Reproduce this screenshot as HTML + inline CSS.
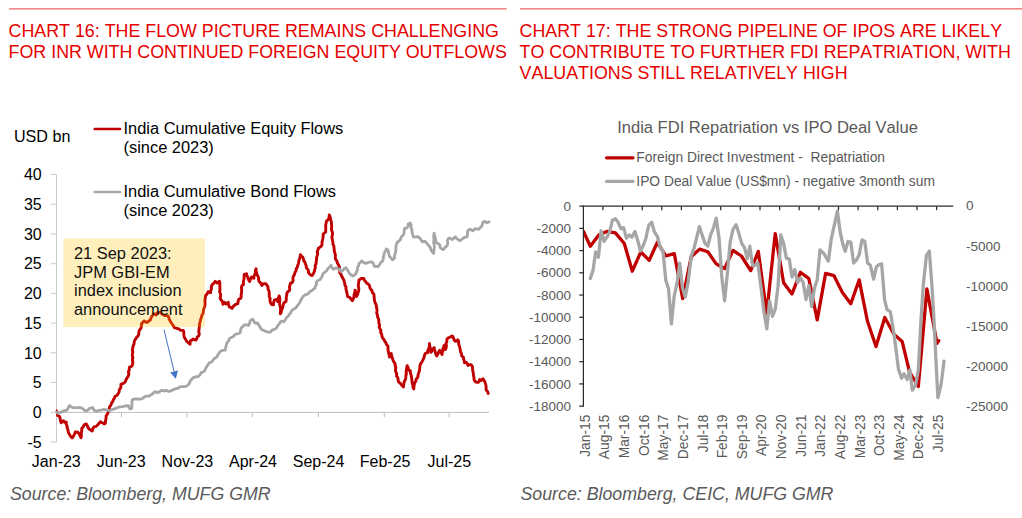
<!DOCTYPE html>
<html><head><meta charset="utf-8"><title>Charts</title>
<style>html,body{margin:0;padding:0;background:#fff}svg{display:block}text{font-family:"Liberation Sans",sans-serif;font-kerning:none}</style></head><body>
<svg width="1022" height="518" viewBox="0 0 1022 518">
<rect width="1022" height="518" fill="#fff"/>
<rect x="9" y="8.4" width="497.7" height="1" fill="#e84040"/>
<rect x="520" y="8.4" width="502" height="1" fill="#e84040"/>
<text x="8.6" y="37.3" font-size="17.83" fill="#e60000">CHART 16: THE FLOW PICTURE REMAINS CHALLENGING</text>
<text x="8.6" y="57.9" font-size="17.83" fill="#e60000">FOR INR WITH CONTINUED FOREIGN EQUITY OUTFLOWS</text>
<text x="519.6" y="37.3" font-size="17.83" fill="#e60000">CHART 17: THE STRONG PIPELINE OF IPOS ARE LIKELY</text>
<text x="519.6" y="57.9" font-size="17.83" fill="#e60000">TO CONTRIBUTE TO FURTHER FDI REPATRIATION, WITH</text>
<text x="519.6" y="78.5" font-size="17.83" fill="#e60000">VALUATIONS STILL RELATIVELY HIGH</text>
<g id="left">
<g stroke="#cbcbcb" stroke-width="1" fill="none">
<line x1="56.5" y1="174.5" x2="56.5" y2="442"/>
<line x1="51" y1="174.5" x2="56.5" y2="174.5"/>
<line x1="51" y1="204.2" x2="56.5" y2="204.2"/>
<line x1="51" y1="233.9" x2="56.5" y2="233.9"/>
<line x1="51" y1="263.7" x2="56.5" y2="263.7"/>
<line x1="51" y1="293.4" x2="56.5" y2="293.4"/>
<line x1="51" y1="323.1" x2="56.5" y2="323.1"/>
<line x1="51" y1="352.8" x2="56.5" y2="352.8"/>
<line x1="51" y1="382.5" x2="56.5" y2="382.5"/>
<line x1="51" y1="412.3" x2="56.5" y2="412.3"/>
<line x1="51" y1="442.0" x2="56.5" y2="442.0"/>
</g>
<g stroke="#bfbfbf" stroke-width="1" fill="none">
<line x1="56" y1="412.4" x2="489" y2="412.4"/>
<line x1="121.5" y1="412.4" x2="121.5" y2="417.4"/>
<line x1="187.0" y1="412.4" x2="187.0" y2="417.4"/>
<line x1="252.3" y1="412.4" x2="252.3" y2="417.4"/>
<line x1="318.4" y1="412.4" x2="318.4" y2="417.4"/>
<line x1="384.3" y1="412.4" x2="384.3" y2="417.4"/>
<line x1="449.2" y1="412.4" x2="449.2" y2="417.4"/>
</g>
<text x="41.7" y="180.2" font-size="16.0" text-anchor="end" fill="#000">40</text>
<text x="41.7" y="209.9" font-size="16.0" text-anchor="end" fill="#000">35</text>
<text x="41.7" y="239.6" font-size="16.0" text-anchor="end" fill="#000">30</text>
<text x="41.7" y="269.4" font-size="16.0" text-anchor="end" fill="#000">25</text>
<text x="41.7" y="299.1" font-size="16.0" text-anchor="end" fill="#000">20</text>
<text x="41.7" y="328.8" font-size="16.0" text-anchor="end" fill="#000">15</text>
<text x="41.7" y="358.5" font-size="16.0" text-anchor="end" fill="#000">10</text>
<text x="41.7" y="388.2" font-size="16.0" text-anchor="end" fill="#000">5</text>
<text x="41.7" y="418.0" font-size="16.0" text-anchor="end" fill="#000">0</text>
<text x="41.7" y="447.7" font-size="16.0" text-anchor="end" fill="#000">-5</text>
<text x="56.3" y="466.8" font-size="16.0" text-anchor="middle" fill="#000">Jan-23</text>
<text x="121.2" y="466.8" font-size="16.0" text-anchor="middle" fill="#000">Jun-23</text>
<text x="187.4" y="466.8" font-size="16.0" text-anchor="middle" fill="#000">Nov-23</text>
<text x="253.0" y="466.8" font-size="16.0" text-anchor="middle" fill="#000">Apr-24</text>
<text x="318.5" y="466.8" font-size="16.0" text-anchor="middle" fill="#000">Sep-24</text>
<text x="385.1" y="466.8" font-size="16.0" text-anchor="middle" fill="#000">Feb-25</text>
<text x="449.3" y="466.8" font-size="16.0" text-anchor="middle" fill="#000">Jul-25</text>
<text x="14" y="141.5" font-size="16.1" fill="#000">USD bn</text>
<clipPath id="lc"><rect x="55.8" y="170" width="440" height="275"/></clipPath><g clip-path="url(#lc)">
<polyline points="56.3,410.8 57.2,413.1 57.6,415.5 59.7,416.5 60.1,418.6 60.5,420.7 61.2,422.8 61.9,421.4 63.5,420.8 64.5,422.2 66.3,422.1 66.2,424.1 67.1,425.9 67.1,427.8 67.9,429.5 68.1,431.4 68.7,433.2 69.7,434.8 70.7,436.6 72.2,437.9 73.5,436.1 74.5,434.1 75.3,432.0 78.0,432.2 79.0,433.7 80.1,435.7 81.0,437.8 81.4,436.0 81.2,434.1 81.5,432.3 81.8,430.4 81.7,428.5 83.2,426.9 84.2,424.8 86.3,423.9 87.4,425.9 88.3,428.1 90.0,429.8 92.2,431.0 92.8,428.8 94.0,426.9 96.2,426.3 97.8,424.8 99.2,423.3 100.3,421.7 102.2,422.8 104.1,423.8 105.3,423.3 105.5,421.5 105.7,419.7 106.2,417.9 106.0,416.0 107.1,414.6 107.8,413.0 108.4,411.4 109.2,409.3 109.5,407.0 110.9,405.1 111.6,403.0 112.6,401.6 113.3,399.8 114.3,398.4 114.9,396.6 117.2,395.2 118.2,393.6 119.1,392.0 119.2,390.0 120.4,388.3 121.0,386.4 120.9,384.4 123.3,383.4 125.3,381.9 126.0,379.8 127.0,377.9 128.3,376.1 128.9,374.0 128.4,371.7 129.3,369.6 129.3,367.4 131.0,366.6 132.3,365.4 132.7,363.5 132.8,361.6 132.4,359.7 132.9,357.8 132.3,355.9 132.4,354.0 132.8,352.0 132.4,349.9 132.7,347.9 133.2,345.9 134.0,344.1 134.2,342.1 134.7,340.3 135.9,338.6 136.7,337.2 138.0,336.1 138.8,334.2 138.8,332.1 139.5,330.2 141.0,328.2 141.4,325.9 141.6,323.5 142.9,322.2 144.2,320.9 145.6,322.0 147.3,322.4 148.8,321.0 150.4,319.9 151.2,317.6 152.4,315.6 154.7,313.7 156.2,315.1 157.0,313.8 157.6,312.4 160.3,312.3 161.3,313.5 162.5,314.5 165.0,315.6 167.6,315.6 168.8,317.3 169.2,319.3 170.5,321.4 171.7,323.5 173.2,325.5 174.3,327.6 177.0,328.3 178.8,328.8 180.2,330.1 181.7,330.4 183.3,330.4 183.8,332.0 183.8,333.8 184.0,335.7 184.4,337.5 185.7,339.5 187.0,341.7 188.5,342.9 190.0,344.3 190.1,342.5 190.6,340.7 192.0,340.1 193.1,339.0 195.8,340.1 196.8,338.7 197.2,337.0 198.8,335.9 199.3,334.0 198.8,332.0 198.9,330.0 199.2,328.1 199.5,326.1 199.5,323.9 200.1,321.8 200.6,319.6 201.3,317.5 201.9,315.3 203.1,313.3 203.4,311.0 203.7,309.0 204.4,307.0 205.0,305.1 205.0,303.0 204.9,301.2 204.9,299.4 205.4,297.7 205.4,295.9 207.0,294.0 208.1,291.8 210.6,292.7 210.6,290.9 211.4,289.2 211.4,287.3 211.6,285.5 212.5,284.3 213.7,283.3 215.2,281.3 217.3,283.0 219.5,281.2 219.8,283.4 219.8,285.5 219.9,287.6 220.0,289.6 219.6,291.8 220.4,293.8 220.7,295.9 220.1,298.0 221.0,299.8 222.2,301.2 222.8,302.6 223.0,304.2 224.5,302.2 225.9,304.1 227.2,303.3 228.3,302.2 228.5,304.5 229.2,306.8 230.7,307.4 232.0,308.4 233.3,306.4 235.0,304.7 237.8,303.7 238.1,301.3 238.9,299.0 240.7,298.3 241.2,296.7 241.1,294.8 241.5,293.0 241.6,291.2 241.7,289.4 241.4,287.5 242.0,285.7 243.6,284.4 243.3,282.4 243.6,280.4 244.1,278.5 244.1,276.5 244.2,274.5 246.6,273.8 247.0,275.6 247.8,277.3 248.3,279.2 249.6,281.4 250.5,279.2 251.4,277.1 253.9,278.2 254.0,276.3 254.8,274.4 255.5,272.6 255.3,270.6 256.1,268.8 256.1,271.2 256.8,273.4 257.5,275.6 258.6,277.4 258.5,279.4 259.0,281.3 260.8,283.2 261.8,285.5 263.2,283.8 265.9,283.7 267.0,285.3 268.0,287.0 268.0,289.0 269.0,290.9 269.2,292.9 269.3,294.9 269.3,296.9 270.2,298.7 269.9,300.8 270.6,302.7 271.6,304.5 273.5,304.8 273.7,302.5 274.2,300.2 276.9,299.3 277.7,301.6 278.3,299.7 278.6,297.7 279.2,295.8 279.6,297.8 279.9,299.8 279.6,301.8 279.6,303.9 280.0,305.8 280.5,307.8 280.5,309.9 280.4,311.9 280.4,313.9 281.3,312.0 281.6,309.8 282.5,307.8 283.0,306.1 283.3,304.4 283.9,302.7 285.8,301.8 286.3,299.7 286.2,297.5 286.7,295.4 286.8,293.3 287.9,291.7 289.4,290.5 289.8,288.7 289.4,286.9 290.0,285.2 290.3,283.4 292.4,282.4 293.1,280.3 292.9,278.1 293.5,276.1 294.5,274.5 294.9,272.5 296.0,270.9 296.2,268.9 297.3,267.2 297.7,265.3 298.5,263.5 298.7,261.5 299.2,259.8 299.8,258.2 300.1,256.4 300.4,254.7 301.4,256.1 302.8,257.2 303.4,258.8 303.7,260.8 305.0,262.3 305.5,264.0 306.2,265.8 306.3,267.7 307.5,269.1 308.4,270.6 308.4,272.6 309.6,273.9 310.7,275.1 312.2,275.6 313.3,273.7 314.2,271.8 314.6,269.7 315.4,267.7 315.1,265.6 316.1,263.7 316.1,261.6 316.6,259.6 316.5,257.5 317.2,255.7 317.7,253.9 317.2,251.9 317.9,250.1 318.4,248.3 320.5,246.9 322.0,245.0 322.0,242.9 322.3,240.7 322.8,238.6 323.2,236.4 323.1,234.2 324.3,233.0 325.7,232.1 325.7,229.9 325.8,227.7 325.6,225.5 326.1,223.4 326.4,221.2 328.3,219.6 329.1,217.3 329.3,214.9 330.3,217.5 330.7,219.7 331.3,221.7 331.5,223.8 331.7,225.9 331.6,228.0 331.5,230.1 332.4,232.1 332.5,234.2 332.0,236.3 332.0,238.4 332.5,240.5 332.9,242.3 332.9,244.1 333.8,245.8 334.0,247.7 334.2,249.5 334.4,251.5 335.0,253.3 335.4,255.3 335.3,257.3 335.6,259.2 336.9,261.1 337.5,263.3 338.7,265.2 339.5,267.3 339.5,269.1 339.9,271.0 339.8,272.9 340.9,273.9 341.4,275.5 342.4,277.5 343.6,279.4 344.2,281.5 344.8,283.3 344.9,285.2 346.0,286.9 345.9,288.8 346.5,290.7 346.8,292.7 347.3,294.6 347.5,296.5 349.7,297.4 351.0,299.0 352.3,300.7 353.3,298.8 354.0,296.7 354.1,294.5 354.8,292.4 355.1,290.2 355.5,292.3 356.2,294.3 356.6,296.5 357.5,294.6 358.2,292.5 358.7,290.5 358.8,288.4 358.3,286.2 358.5,284.1 358.7,282.1 359.0,280.0 361.3,278.5 363.8,278.4 364.2,280.1 365.5,281.5 366.5,283.1 368.3,284.1 369.5,285.6 369.8,287.5 370.7,289.3 372.0,290.6 372.4,292.6 373.8,294.0 374.1,296.1 374.2,298.2 374.4,300.2 375.0,302.3 375.7,303.8 376.3,305.5 376.5,307.4 377.0,309.3 376.9,311.2 376.7,313.2 377.5,315.0 377.6,316.9 378.6,319.1 378.9,321.5 378.9,323.3 379.7,325.0 379.2,326.9 379.8,328.6 380.8,330.3 380.6,332.4 381.7,334.1 381.9,336.1 382.6,337.9 383.8,339.2 384.5,340.8 385.6,342.1 386.5,344.4 388.1,346.4 388.0,348.6 388.1,350.7 388.7,352.8 389.1,355.0 389.5,357.1 390.3,355.3 391.3,353.6 391.6,355.6 392.2,357.5 392.8,359.5 393.5,361.4 395.1,363.6 395.2,365.7 395.9,367.8 395.4,370.0 395.9,372.1 396.8,373.9 396.5,375.9 397.8,377.6 398.1,379.5 398.3,381.4 399.4,382.6 400.6,383.6 401.9,385.3 403.4,386.9 403.7,385.1 404.0,383.2 404.3,381.4 405.4,379.8 405.7,377.9 405.9,375.9 406.3,373.9 406.2,371.8 406.4,369.7 406.7,367.7 407.2,365.7 408.2,367.7 408.4,370.0 410.3,370.6 410.4,372.9 411.1,375.0 411.5,377.1 411.8,379.2 412.0,381.4 412.2,383.3 413.0,385.1 412.9,387.1 413.8,388.9 413.9,386.9 414.2,385.0 414.7,383.0 415.8,381.3 416.1,379.3 417.9,377.0 418.0,375.1 418.6,373.3 419.2,371.4 419.6,369.6 419.8,367.6 419.9,365.7 420.5,363.9 421.7,362.3 422.6,360.6 423.4,358.9 424.2,357.1 424.5,355.1 425.4,353.4 427.8,352.7 427.7,350.7 428.7,349.0 429.1,347.2 429.5,345.4 429.4,343.5 429.8,345.7 430.2,347.9 430.5,350.1 430.9,352.3 432.0,351.0 432.4,349.5 434.1,347.6 434.6,349.6 435.2,351.7 435.7,353.9 436.7,355.9 437.8,354.2 438.7,352.2 439.6,350.3 440.8,352.4 442.1,354.5 442.2,352.6 442.9,350.9 442.8,348.9 443.7,347.2 444.1,345.4 444.9,347.5 445.5,349.6 446.2,347.6 446.4,345.5 446.0,343.3 446.9,341.3 446.9,339.2 448.1,337.9 449.7,337.4 451.0,336.5 452.4,335.9 453.4,337.8 454.0,339.7 455.4,341.3 456.8,340.8 457.8,339.7 458.7,341.7 458.6,344.0 459.4,346.1 460.0,348.2 460.3,350.2 460.7,352.1 461.5,353.9 461.7,355.9 463.5,357.4 463.6,359.2 464.3,361.0 464.5,362.8 466.4,362.4 467.5,363.8 467.9,365.5 469.4,364.8 471.2,364.8 472.2,366.1 472.6,367.7 472.6,369.7 473.0,371.6 473.4,373.6 473.4,375.6 474.0,377.5 474.0,379.5 474.8,381.1 476.1,382.3 478.4,382.2 479.4,381.1 479.7,379.5 481.2,380.4 483.0,378.8 483.9,380.2 484.8,381.6 485.4,383.6 486.0,385.7 486.1,387.8 486.1,389.9 487.5,391.5 488.2,393.4" fill="none" stroke="#c00000" stroke-width="2.9" stroke-linejoin="round" stroke-linecap="round"/>
<polyline points="56.3,412.3 58.2,413.4 60.0,412.6 61.9,411.7 63.7,410.9 65.7,410.3 67.6,409.7 68.3,407.5 69.6,405.6 72.2,407.4 74.3,407.9 76.4,407.6 78.3,407.7 80.3,407.6 82.2,408.3 83.9,409.8 85.9,410.9 88.0,410.0 89.6,408.3 92.6,407.5 94.1,410.2 96.8,411.2 98.7,410.3 100.9,410.3 103.0,409.5 105.2,409.7 107.2,410.2 109.3,410.6 111.0,410.1 112.7,409.3 114.5,408.8 116.2,408.1 118.0,407.6 119.7,406.8 122.3,406.6 124.9,406.1 126.7,405.6 128.6,405.8 128.9,407.4 130.0,408.8 131.9,408.3 131.8,406.1 131.9,404.1 132.0,402.0 132.2,400.0 132.9,399.5 134.5,399.0 136.3,398.9 139.4,399.2 141.7,398.8 143.7,397.5 145.4,396.4 147.3,396.1 149.3,396.1 150.8,394.8 152.5,394.0 153.6,392.7 154.9,391.6 157.6,392.8 159.4,392.0 160.8,390.6 162.7,390.5 164.4,391.1 166.1,390.2 167.7,391.1 169.7,391.4 171.6,390.4 173.7,389.7 175.4,388.7 177.4,388.7 179.1,387.3 181.1,386.7 182.9,386.6 184.7,386.6 186.7,386.0 188.3,384.8 189.6,382.9 190.4,380.7 191.7,379.3 193.0,377.9 195.6,376.9 198.4,376.5 200.1,374.6 201.3,372.4 203.2,372.0 204.6,370.8 205.5,368.7 206.7,366.8 207.9,364.7 209.3,362.8 211.7,362.0 213.0,359.9 214.7,358.3 216.7,357.2 217.8,355.1 219.1,353.1 220.5,351.2 222.8,350.3 225.3,350.2 225.4,348.2 226.1,346.4 226.4,344.4 227.3,342.4 228.8,340.8 229.3,338.6 231.1,337.6 233.0,336.7 234.4,335.2 236.3,333.9 238.6,333.6 240.4,332.3 240.6,329.8 241.4,327.6 243.1,326.3 244.5,324.8 246.4,324.7 248.4,325.5 249.7,323.1 250.2,320.6 252.5,319.1 253.7,320.7 254.4,322.5 255.9,323.3 257.7,322.9 258.7,325.1 260.1,327.0 260.9,328.7 262.3,329.9 264.1,330.5 265.9,331.5 268.1,332.1 270.4,332.0 271.4,330.8 272.8,329.9 275.8,328.8 276.9,327.2 277.8,325.5 279.2,324.2 280.0,322.4 281.4,321.1 283.8,321.7 285.3,319.8 286.5,317.6 288.3,315.9 289.4,314.3 290.8,312.8 291.5,311.0 293.0,309.6 295.1,308.3 296.6,307.1 297.5,305.5 298.7,304.0 299.9,302.2 300.8,300.1 302.0,298.2 303.2,296.3 305.0,294.9 306.8,294.3 308.6,293.5 309.7,291.6 311.7,290.8 313.2,289.4 314.9,288.2 315.3,286.2 316.6,284.6 316.3,282.5 317.4,280.8 320.0,279.8 321.4,277.8 322.3,275.7 323.2,273.5 324.9,272.2 326.6,270.7 327.8,268.8 329.6,267.1 331.2,265.2 331.9,267.4 333.5,269.3 336.2,267.8 337.6,268.6 339.3,268.8 340.2,270.4 341.4,271.9 342.8,270.4 344.0,268.8 345.9,267.6 347.2,269.6 348.5,271.5 349.3,273.2 350.6,274.5 352.8,276.1 354.6,275.0 356.0,273.5 356.6,271.5 357.6,269.7 357.4,267.4 358.7,265.7 358.9,263.5 360.5,262.3 361.7,260.9 364.1,262.9 365.8,263.4 367.9,262.6 370.0,262.0 372.5,262.2 373.6,264.2 374.3,266.4 376.1,266.3 378.2,266.6 379.9,263.9 381.0,262.2 382.7,261.0 383.2,258.7 383.5,256.4 384.1,254.1 384.6,252.3 385.7,250.7 386.2,248.9 388.1,249.9 388.4,252.3 388.9,254.5 389.8,256.7 391.3,258.2 392.5,259.8 394.6,258.2 394.4,256.2 395.0,254.1 395.6,252.1 395.8,250.0 395.9,247.9 396.1,245.8 396.6,243.8 397.6,242.0 399.0,241.0 400.2,239.9 401.3,236.9 403.5,234.8 404.0,232.8 404.2,230.7 404.4,228.6 407.2,227.6 408.2,225.9 408.2,223.9 410.1,222.9 411.2,225.1 410.9,227.5 412.0,229.6 412.0,232.1 412.7,234.5 413.3,236.9 415.4,237.1 417.5,236.5 420.2,238.4 421.2,240.2 422.4,241.8 424.8,241.2 426.6,243.0 428.1,245.1 430.2,247.2 430.7,249.2 431.6,251.0 433.7,253.4 433.9,251.2 434.1,248.9 434.4,246.7 434.1,244.4 433.6,242.2 434.0,239.9 433.7,237.7 433.6,235.4 434.2,233.2 434.4,235.3 435.3,237.3 435.6,239.5 435.9,241.6 437.3,243.3 439.4,244.2 439.8,246.0 440.4,247.8 443.1,249.6 444.4,248.4 445.3,246.9 446.7,246.2 447.5,244.6 447.7,242.6 447.4,240.6 448.2,238.8 449.6,238.0 452.4,239.6 453.9,238.1 455.4,236.8 456.3,238.3 457.7,239.3 460.2,240.8 461.7,239.5 463.1,238.3 464.9,237.2 467.0,236.9 467.5,234.9 467.5,232.9 467.6,231.0 468.8,229.9 470.5,229.4 472.7,230.8 475.3,228.7 476.9,229.0 478.6,229.4 479.7,228.0 481.1,227.1 482.3,224.8 482.8,222.4 484.3,221.3 486.8,222.8 489.0,221.9" fill="none" stroke="#a6a6a6" stroke-width="2.8" stroke-linejoin="round" stroke-linecap="round"/>
</g>
<line x1="94.8" y1="129" x2="120" y2="129" stroke="#c00000" stroke-width="2.7" stroke-linecap="round"/>
<text x="123.5" y="134.2" font-size="16.42" fill="#000">India Cumulative Equity Flows</text>
<text x="123.5" y="153.3" font-size="16.42" fill="#000">(since 2023)</text>
<line x1="94.8" y1="192" x2="120" y2="192" stroke="#a6a6a6" stroke-width="2.7" stroke-linecap="round"/>
<text x="123.5" y="196.5" font-size="16.42" fill="#000">India Cumulative Bond Flows</text>
<text x="123.5" y="215.6" font-size="16.42" fill="#000">(since 2023)</text>
<rect x="63.3" y="238.3" width="141.6" height="88.8" fill="#ffc000" fill-opacity="0.26"/>
<text x="74" y="259.1" font-size="16.42" fill="#111">21 Sep 2023:</text>
<text x="74" y="277.7" font-size="16.42" fill="#111">JPM GBI-EM</text>
<text x="74" y="296.3" font-size="16.42" fill="#111">index inclusion</text>
<text x="74" y="314.9" font-size="16.42" fill="#111">announcement</text>
<line x1="164" y1="329.6" x2="174.1" y2="371.6" stroke="#4472c4" stroke-width="1"/>
<polygon points="175.8,378.8 170.1,372.4 178,370.4" fill="#4472c4"/>
</g>
<text x="10" y="499.7" font-size="17.78" font-style="italic" fill="#5a5a5a">Source: Bloomberg, MUFG GMR</text>
<g id="right">
<text x="767.5" y="132.6" font-size="16.56" text-anchor="middle" fill="#595959">India FDI Repatriation vs IPO Deal Value</text>
<line x1="606.5" y1="157.8" x2="633" y2="157.8" stroke="#c00000" stroke-width="3.2" stroke-linecap="round"/>
<text x="636.3" y="162.2" font-size="13.82" fill="#595959" xml:space="preserve">Foreign Direct Investment -  Repatriation</text>
<line x1="606.5" y1="181.4" x2="633" y2="181.4" stroke="#a6a6a6" stroke-width="3.2" stroke-linecap="round"/>
<text x="636.3" y="185.8" font-size="13.82" fill="#595959">IPO Deal Value (US$mn) - negative 3month sum</text>
<clipPath id="rc"><rect x="583.3" y="200" width="380" height="215"/></clipPath><g clip-path="url(#rc)">
<polyline points="583.5,231.4 590.3,246.3 598.8,235.0 606.9,231.4 615.4,232.9 624.3,243.5 632.3,271.2 640.8,252.0 649.2,260.3 657.4,242.3 665.8,255.9 674.3,253.7 682.7,298.7 691.2,256.8 699.6,249.1 707.8,251.8 716.2,263.9 724.6,268.6 733.0,250.4 741.4,256.0 750.7,270.6 758.3,251.4 766.7,313.5 775.2,233.6 783.6,282.7 792.0,293.9 800.4,272.3 808.8,278.5 817.2,319.9 825.6,273.4 834.0,275.7 842.4,292.5 850.8,303.7 859.2,279.9 867.4,321.0 876.0,346.5 884.8,317.5 893.9,334.3 902.2,341.6 909.5,371.8 918.3,386.5 926.9,289.0 937.0,343.4 938.8,340.7" fill="none" stroke="#c00000" stroke-width="3.3" stroke-linejoin="round" stroke-linecap="round"/>
<polyline points="590.3,278.6 593.1,270.1 595.6,252.0 598.4,257.3 601.1,230.8 604.1,241.4 606.9,237.2 609.6,231.9 612.4,220.2 615.4,218.7 618.1,222.3 620.9,228.7 623.6,227.6 626.4,238.2 629.2,235.0 631.9,237.2 634.9,231.4 637.7,240.4 640.4,251.0 643.2,245.7 645.9,238.2 648.7,225.5 651.7,222.3 654.4,231.9 657.4,236.5 660.2,247.0 663.0,251.5 665.8,280.2 668.6,289.1 671.4,323.8 674.2,296.2 677.0,283.4 679.7,263.1 682.5,288.0 685.2,297.0 688.1,282.7 691.2,256.3 694.1,248.0 696.8,237.1 699.4,226.6 702.1,235.0 705.0,243.4 707.8,246.2 710.6,235.0 713.4,228.0 716.2,218.2 719.0,237.8 721.8,277.0 724.6,300.9 727.4,272.9 730.2,242.0 733.0,229.4 736.1,224.7 738.9,233.6 741.7,243.4 744.5,247.6 747.3,258.8 749.8,246.2 752.6,265.8 755.4,265.0 757.8,263.0 760.6,284.0 764.0,312.1 766.8,328.9 769.6,300.9 772.4,316.3 775.2,309.3 778.0,286.9 780.8,235.0 783.6,243.4 786.4,258.3 789.2,258.8 792.0,277.0 794.8,269.5 797.6,282.7 800.4,277.9 803.2,282.7 806.0,299.5 808.8,285.5 811.6,306.5 814.4,288.3 817.2,279.9 820.0,249.9 823.6,253.2 828.4,261.1 831.2,239.2 834.0,226.6 837.4,211.2 840.2,232.2 843.0,244.8 845.2,251.3 848.0,241.5 850.8,242.0 853.6,263.0 856.4,260.2 859.2,254.6 862.0,239.8 864.8,241.5 867.6,263.0 870.4,265.3 873.6,279.2 876.4,266.8 879.1,264.5 881.6,263.9 884.6,300.0 887.1,309.8 890.3,311.6 893.9,333.3 898.5,369.1 901.6,378.3 904.0,373.7 907.1,379.5 909.9,370.0 912.3,390.2 915.4,385.6 918.3,370.0 921.0,320.0 923.3,285.0 926.4,255.7 929.3,251.1 931.9,285.0 934.0,320.0 935.5,351.7 937.9,397.5 941.2,383.8 944.0,361.2" fill="none" stroke="#a6a6a6" stroke-width="3.3" stroke-linejoin="round" stroke-linecap="round"/>
</g>
<g stroke="#2b2b2b" stroke-width="1.25" fill="none">
<line x1="579.3" y1="206.15" x2="953.3" y2="206.15"/>
<line x1="583.4" y1="205.5" x2="583.4" y2="406.8"/>
<line x1="579.3" y1="228.37" x2="583.4" y2="228.37"/>
<line x1="579.3" y1="250.59" x2="583.4" y2="250.59"/>
<line x1="579.3" y1="272.81" x2="583.4" y2="272.81"/>
<line x1="579.3" y1="295.03" x2="583.4" y2="295.03"/>
<line x1="579.3" y1="317.25" x2="583.4" y2="317.25"/>
<line x1="579.3" y1="339.47" x2="583.4" y2="339.47"/>
<line x1="579.3" y1="361.69" x2="583.4" y2="361.69"/>
<line x1="579.3" y1="383.91" x2="583.4" y2="383.91"/>
<line x1="579.3" y1="406.13" x2="583.4" y2="406.13"/>
<line x1="602.9" y1="206.15" x2="602.9" y2="210.2"/>
<line x1="622.6" y1="206.15" x2="622.6" y2="210.2"/>
<line x1="642.2" y1="206.15" x2="642.2" y2="210.2"/>
<line x1="661.8" y1="206.15" x2="661.8" y2="210.2"/>
<line x1="681.4" y1="206.15" x2="681.4" y2="210.2"/>
<line x1="701.1" y1="206.15" x2="701.1" y2="210.2"/>
<line x1="720.7" y1="206.15" x2="720.7" y2="210.2"/>
<line x1="740.3" y1="206.15" x2="740.3" y2="210.2"/>
<line x1="760.0" y1="206.15" x2="760.0" y2="210.2"/>
<line x1="779.6" y1="206.15" x2="779.6" y2="210.2"/>
<line x1="799.2" y1="206.15" x2="799.2" y2="210.2"/>
<line x1="818.9" y1="206.15" x2="818.9" y2="210.2"/>
<line x1="838.5" y1="206.15" x2="838.5" y2="210.2"/>
<line x1="858.1" y1="206.15" x2="858.1" y2="210.2"/>
<line x1="877.8" y1="206.15" x2="877.8" y2="210.2"/>
<line x1="897.4" y1="206.15" x2="897.4" y2="210.2"/>
<line x1="917.0" y1="206.15" x2="917.0" y2="210.2"/>
<line x1="936.6" y1="206.15" x2="936.6" y2="210.2"/>
</g>
<text x="571" y="210.7" font-size="13.5" text-anchor="end" fill="#595959">0</text>
<text x="571" y="233.0" font-size="13.5" text-anchor="end" fill="#595959">-2000</text>
<text x="571" y="255.2" font-size="13.5" text-anchor="end" fill="#595959">-4000</text>
<text x="571" y="277.4" font-size="13.5" text-anchor="end" fill="#595959">-6000</text>
<text x="571" y="299.7" font-size="13.5" text-anchor="end" fill="#595959">-8000</text>
<text x="571" y="321.9" font-size="13.5" text-anchor="end" fill="#595959">-10000</text>
<text x="571" y="344.2" font-size="13.5" text-anchor="end" fill="#595959">-12000</text>
<text x="571" y="366.4" font-size="13.5" text-anchor="end" fill="#595959">-14000</text>
<text x="571" y="388.7" font-size="13.5" text-anchor="end" fill="#595959">-16000</text>
<text x="571" y="410.9" font-size="13.5" text-anchor="end" fill="#595959">-18000</text>
<text x="966" y="210.4" font-size="13.5" fill="#595959">0</text>
<text x="966" y="250.5" font-size="13.5" fill="#595959">-5000</text>
<text x="966" y="290.5" font-size="13.5" fill="#595959">-10000</text>
<text x="966" y="330.6" font-size="13.5" fill="#595959">-15000</text>
<text x="966" y="370.6" font-size="13.5" fill="#595959">-20000</text>
<text x="966" y="410.7" font-size="13.5" fill="#595959">-25000</text>
<text transform="translate(589.7,414.6) rotate(-90)" font-size="13.82" text-anchor="end" fill="#595959">Jan-15</text>
<text transform="translate(609.3,414.6) rotate(-90)" font-size="13.82" text-anchor="end" fill="#595959">Aug-15</text>
<text transform="translate(629.0,414.6) rotate(-90)" font-size="13.82" text-anchor="end" fill="#595959">Mar-16</text>
<text transform="translate(648.6,414.6) rotate(-90)" font-size="13.82" text-anchor="end" fill="#595959">Oct-16</text>
<text transform="translate(668.2,414.6) rotate(-90)" font-size="13.82" text-anchor="end" fill="#595959">May-17</text>
<text transform="translate(687.8,414.6) rotate(-90)" font-size="13.82" text-anchor="end" fill="#595959">Dec-17</text>
<text transform="translate(707.5,414.6) rotate(-90)" font-size="13.82" text-anchor="end" fill="#595959">Jul-18</text>
<text transform="translate(727.1,414.6) rotate(-90)" font-size="13.82" text-anchor="end" fill="#595959">Feb-19</text>
<text transform="translate(746.7,414.6) rotate(-90)" font-size="13.82" text-anchor="end" fill="#595959">Sep-19</text>
<text transform="translate(766.4,414.6) rotate(-90)" font-size="13.82" text-anchor="end" fill="#595959">Apr-20</text>
<text transform="translate(786.0,414.6) rotate(-90)" font-size="13.82" text-anchor="end" fill="#595959">Nov-20</text>
<text transform="translate(805.6,414.6) rotate(-90)" font-size="13.82" text-anchor="end" fill="#595959">Jun-21</text>
<text transform="translate(825.3,414.6) rotate(-90)" font-size="13.82" text-anchor="end" fill="#595959">Jan-22</text>
<text transform="translate(844.9,414.6) rotate(-90)" font-size="13.82" text-anchor="end" fill="#595959">Aug-22</text>
<text transform="translate(864.5,414.6) rotate(-90)" font-size="13.82" text-anchor="end" fill="#595959">Mar-23</text>
<text transform="translate(884.1,414.6) rotate(-90)" font-size="13.82" text-anchor="end" fill="#595959">Oct-23</text>
<text transform="translate(903.8,414.6) rotate(-90)" font-size="13.82" text-anchor="end" fill="#595959">May-24</text>
<text transform="translate(923.4,414.6) rotate(-90)" font-size="13.82" text-anchor="end" fill="#595959">Dec-24</text>
<text transform="translate(943.0,414.6) rotate(-90)" font-size="13.82" text-anchor="end" fill="#595959">Jul-25</text>
</g>
<text x="520.5" y="499.9" font-size="17.78" font-style="italic" fill="#5a5a5a">Source: Bloomberg, CEIC, MUFG GMR</text>
</svg></body></html>
